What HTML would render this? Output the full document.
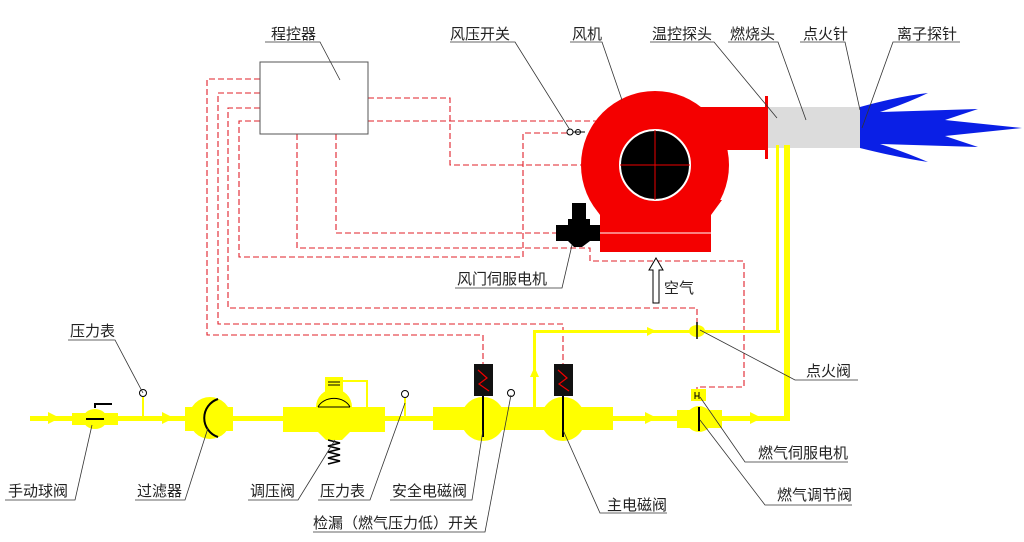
<!DOCTYPE html>
<html><head><meta charset="utf-8"><style>
html,body{margin:0;padding:0;background:#fff;}
svg{display:block;}
text{font-family:"Liberation Sans","Noto Sans CJK SC",sans-serif;font-size:15px;fill:#222;}
</style></head><body>
<svg width="1024" height="542" viewBox="0 0 1024 542" xmlns="http://www.w3.org/2000/svg">
<g fill="none" stroke="#e0202a" stroke-width="1.1" stroke-dasharray="6,3">
<path d="M260 79 H207 V335 H483 V365"/>
<path d="M260 93 H218 V324 H563 V365"/>
<path d="M260 108 H228 V308 H697 V328"/>
<path d="M260 121 H239 V257 H523 V133 H568"/>
<path d="M368 98 H450 V165 H585"/>
<path d="M368 121 H600"/>
<path d="M297 134 V248 H590 V261 H744 V387 H697 V392"/>
<path d="M336 134 V233 H556"/>
</g>
<rect x="260" y="62" width="108" height="72" fill="#fff" stroke="#555" stroke-width="1"/>
<g fill="#f40000">
<circle cx="655" cy="165" r="74"/>
<rect x="660" y="107" width="107" height="43"/>
<path d="M590 200 L722 200 L711 215 L711 252 L600 252 L600 215 Z"/>
<rect x="765" y="96" width="3" height="63"/>
</g>
<line x1="600" y1="233" x2="711" y2="233" stroke="#fff" stroke-width="1"/>
<circle cx="655" cy="165" r="35" fill="#000" stroke="#fff" stroke-width="2"/>
<line x1="620" y1="165" x2="690" y2="165" stroke="#e00" stroke-width="1"/>
<line x1="655" y1="130" x2="655" y2="200" stroke="#e00" stroke-width="1"/>
<circle cx="570" cy="132" r="3" fill="#fff" stroke="#000" stroke-width="1"/>
<circle cx="578" cy="132" r="2.5" fill="#fff" stroke="#000" stroke-width="1"/>
<line x1="573" y1="132" x2="585" y2="132" stroke="#000"/>
<g fill="#000">
<rect x="556" y="225" width="44" height="16"/>
<rect x="572" y="203" width="14" height="16"/>
<path d="M568 219 H590 V241 L582 247 H574 L568 241 Z"/>
</g>
<rect x="768" y="107" width="92" height="41" fill="#dcdcdc"/>
<path d="M860 107 Q900 96 928 93 Q905 104 880 112 L978 109 L945 120 L1022 128 L945 136 L978 147 L880 144 Q905 152 928 162 Q900 158 860 148 Z" fill="#0a1fe6"/>
<path d="M653 303 V270 H649 L656 258 L663 270 H659 V303 Z" fill="#fff" stroke="#000" stroke-width="1"/>
<g fill="#ffff00" stroke="none">
<rect x="30" y="416" width="757" height="5"/>
<rect x="784" y="145" width="6" height="276"/>
<rect x="533" y="330" width="3" height="88"/>
<rect x="533" y="330" width="247" height="3"/>
<rect x="776" y="145" width="3" height="188"/>
<path d="M48 412 L60 418 L48 424 Z"/>
<path d="M162 412 L174 418 L162 424 Z"/>
<path d="M645 412 L657 418 L645 424 Z"/>
<path d="M750 412 L762 418 L750 424 Z"/>
<path d="M647 327 L656 331 L647 336 Z"/>
<path d="M530 377 L534.5 367 L539 377 Z"/>
<rect x="72" y="413" width="46" height="12"/>
<ellipse cx="95" cy="419" rx="12" ry="10"/>
<rect x="185" y="407" width="48" height="24"/>
<circle cx="210" cy="418" r="21"/>
<rect x="283" y="407" width="102" height="25"/>
<path d="M316 407 A18 18 0 0 1 352 407 Z"/>
<path d="M318 432 L350 432 L342 440 L326 440 Z"/>
<rect x="325" y="377" width="18" height="15"/>
<rect x="433" y="407" width="180" height="23"/>
<circle cx="483" cy="419" r="22"/>
<circle cx="563" cy="419" r="22"/>
<rect x="677" y="410" width="45" height="18"/>
<ellipse cx="699" cy="419" rx="13" ry="13"/>
<rect x="691" y="389" width="15" height="12"/>
<ellipse cx="697" cy="331" rx="8" ry="6"/>
</g>
<polyline points="343,381 367,381 367,407" fill="none" stroke="#ffff00" stroke-width="2"/>
<line x1="328" y1="382" x2="340" y2="382" stroke="#000"/><line x1="328" y1="385" x2="340" y2="385" stroke="#000"/>
<path d="M318 407 A17 13 0 0 1 350 407" fill="none" stroke="#000"/>
<line x1="318" y1="407" x2="350" y2="407" stroke="#000"/>
<path d="M328 440 L340 443 L328 446 L340 449 L328 452 L340 455 L328 458 L340 461 L328 464" fill="none" stroke="#000" stroke-width="1.5"/>
<line x1="86" y1="419" x2="104" y2="419" stroke="#000" stroke-width="2"/>
<path d="M95 408 V404 H112" fill="none" stroke="#000" stroke-width="2"/>
<path d="M218 399 A20 20 0 0 0 218 437" fill="none" stroke="#000" stroke-width="2"/>
<g fill="#fff" stroke="#000" stroke-width="1">
<circle cx="143" cy="393" r="3.5"/><circle cx="405" cy="394" r="3.5"/><circle cx="511" cy="393" r="3.5"/>
</g>
<line x1="143" y1="397" x2="143" y2="416" stroke="#ffff00" stroke-width="2"/>
<line x1="405" y1="398" x2="405" y2="416" stroke="#ffff00" stroke-width="2"/>
<rect x="474" y="364" width="19" height="32" fill="#111"/>
<rect x="554" y="364" width="19" height="32" fill="#111"/>
<path d="M478 370 L487 378 L479 384 L489 391" fill="none" stroke="#e00" stroke-width="1.2"/>
<path d="M558 370 L567 378 L559 384 L569 391" fill="none" stroke="#e00" stroke-width="1.2"/>
<line x1="483" y1="396" x2="483" y2="437" stroke="#000" stroke-width="2"/>
<line x1="563" y1="396" x2="563" y2="437" stroke="#000" stroke-width="2"/>
<line x1="699" y1="407" x2="699" y2="431" stroke="#000" stroke-width="2"/>
<line x1="697" y1="322" x2="697" y2="339" stroke="#000" stroke-width="1.5"/>
<path d="M695 392 V399 M699 392 V399 M695 396 H699" stroke="#000" fill="none"/>
<g stroke="#333" stroke-width="0.8" fill="none">
<polyline points="265,42 320,42 340,80"/>
<polyline points="450,42 515,42 570,130"/>
<polyline points="570,42 602,42 622,100"/>
<polyline points="650,42 714,42 777,118"/>
<polyline points="728,42 778,42 806,120"/>
<polyline points="800,42 845,42 860,110"/>
<polyline points="960,42 893,42 862,128"/>
<polyline points="455,288 562,288 572,245"/>
<polyline points="858,380 795,380 700,330"/>
<polyline points="848,462 745,462 700,397"/>
<polyline points="852,505 765,505 700,420"/>
<polyline points="667,513 600,513 563,430"/>
<polyline points="68,340 115,340 143,393"/>
<polyline points="5,500 75,500 92,425"/>
<polyline points="135,500 185,500 208,428"/>
<polyline points="248,500 298,500 335,440"/>
<polyline points="318,500 370,500 405,403"/>
<polyline points="390,500 472,500 483,430"/>
<polyline points="313,532 485,532 511,395"/>
</g>
<text x="271" y="39">程控器</text>
<text x="450" y="39">风压开关</text>
<text x="572" y="39">风机</text>
<text x="652" y="39">温控探头</text>
<text x="730" y="39">燃烧头</text>
<text x="803" y="39">点火针</text>
<text x="897" y="39">离子探针</text>
<text x="457" y="284">风门伺服电机</text>
<text x="664" y="293">空气</text>
<text x="806" y="376">点火阀</text>
<text x="758" y="458">燃气伺服电机</text>
<text x="777" y="500">燃气调节阀</text>
<text x="607" y="510">主电磁阀</text>
<text x="70" y="336">压力表</text>
<text x="8" y="496">手动球阀</text>
<text x="137" y="496">过滤器</text>
<text x="250" y="496">调压阀</text>
<text x="320" y="496">压力表</text>
<text x="392" y="496">安全电磁阀</text>
<text x="313" y="528">检漏（燃气压力低）开关</text>
</svg>
</body></html>
